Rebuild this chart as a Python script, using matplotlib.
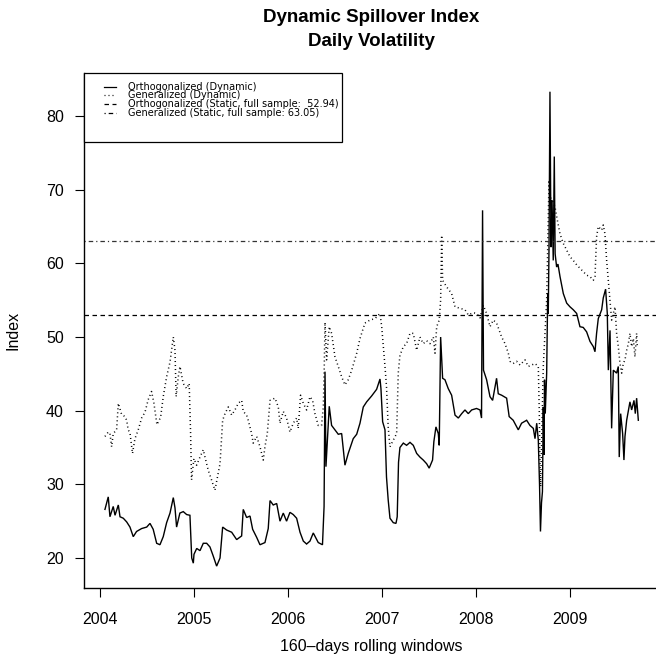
import matplotlib
matplotlib.use("Agg")
import matplotlib.pyplot as plt
from matplotlib.lines import Line2D
from matplotlib.patches import Rectangle

plt.rcParams['font.family'] = ['Liberation Sans', 'DejaVu Sans']
plt.rcParams['lines.scale_dashes'] = False

# Orthogonalized (dynamic) spillover index: decimal year, index value
orth_t = [2004.053, 2004.088, 2004.106, 2004.141, 2004.160, 2004.195, 2004.213, 2004.248,
          2004.284, 2004.319, 2004.354, 2004.389, 2004.443, 2004.497, 2004.532, 2004.566,
          2004.603, 2004.638, 2004.673, 2004.709, 2004.745, 2004.780, 2004.798, 2004.815,
          2004.850, 2004.886, 2004.922, 2004.957, 2004.976, 2004.993, 2005.000, 2005.029,
          2005.064, 2005.099, 2005.135, 2005.170, 2005.204, 2005.241, 2005.277, 2005.305,
          2005.347, 2005.401, 2005.454, 2005.507, 2005.524, 2005.560, 2005.596, 2005.624,
          2005.667, 2005.702, 2005.755, 2005.790, 2005.809, 2005.843, 2005.880, 2005.915,
          2005.950, 2005.985, 2006.021, 2006.056, 2006.092, 2006.128, 2006.163, 2006.198,
          2006.234, 2006.269, 2006.322, 2006.367, 2006.384, 2006.394, 2006.404, 2006.439,
          2006.464, 2006.500, 2006.535, 2006.571, 2006.606, 2006.641, 2006.694, 2006.731,
          2006.766, 2006.801, 2006.837, 2006.890, 2006.943, 2006.979, 2006.989, 2007.007,
          2007.032, 2007.048, 2007.066, 2007.085, 2007.120, 2007.149, 2007.162, 2007.176,
          2007.191, 2007.227, 2007.262, 2007.298, 2007.333, 2007.369, 2007.404, 2007.439,
          2007.475, 2007.502, 2007.538, 2007.552, 2007.574, 2007.599, 2007.609, 2007.624,
          2007.645, 2007.670, 2007.705, 2007.741, 2007.777, 2007.812, 2007.848, 2007.883,
          2007.918, 2007.954, 2008.006, 2008.043, 2008.059, 2008.070, 2008.080, 2008.113,
          2008.149, 2008.177, 2008.202, 2008.219, 2008.237, 2008.273, 2008.326, 2008.353,
          2008.396, 2008.450, 2008.485, 2008.539, 2008.574, 2008.610, 2008.628, 2008.646,
          2008.663, 2008.676, 2008.686, 2008.697, 2008.707, 2008.716, 2008.723, 2008.729,
          2008.737, 2008.752, 2008.763, 2008.769, 2008.777, 2008.787, 2008.798, 2008.809,
          2008.822, 2008.833, 2008.842, 2008.858, 2008.872, 2008.894, 2008.929, 2008.965,
          2009.000, 2009.035, 2009.071, 2009.106, 2009.141, 2009.177, 2009.213, 2009.248,
          2009.266, 2009.283, 2009.301, 2009.337, 2009.354, 2009.379, 2009.397, 2009.408,
          2009.426, 2009.443, 2009.461, 2009.496, 2009.514, 2009.524, 2009.539, 2009.560,
          2009.574, 2009.585, 2009.603, 2009.638, 2009.656, 2009.681, 2009.695, 2009.709,
          2009.727]
orth_v = [26.6, 28.3, 25.6, 27.0, 25.8, 27.2, 25.6, 25.4,
          24.9, 24.2, 22.9, 23.6, 24.0, 24.2, 24.7, 23.9,
          22.0, 21.8, 22.9, 24.8, 26.1, 28.2, 26.8, 24.2,
          26.1, 26.3, 25.9, 25.8, 20.0, 19.3, 20.5, 21.3,
          21.0, 22.0, 22.0, 21.5, 20.3, 18.9, 20.0, 24.2,
          23.8, 23.5, 22.5, 23.0, 26.6, 25.5, 25.7, 23.9,
          22.8, 21.8, 22.1, 24.0, 27.8, 27.2, 27.4, 25.0,
          26.1, 25.0, 26.2, 25.9, 25.4, 23.5, 22.3, 21.9,
          22.3, 23.4, 22.1, 21.8, 27.0, 45.3, 32.4, 40.6,
          38.0, 37.4, 36.8, 36.9, 32.6, 34.2, 36.2, 36.8,
          38.3, 40.5, 41.2, 42.0, 42.9, 44.3, 43.0, 38.5,
          37.4, 31.0, 27.9, 25.4, 24.8, 24.7, 25.6, 33.0,
          35.0, 35.6, 35.3, 35.7, 35.3, 34.2, 33.7, 33.3,
          32.8, 32.2, 33.3, 35.8, 37.8, 36.9, 35.3, 50.0,
          44.4, 44.2, 43.0, 42.1, 39.4, 39.0, 39.6, 40.1,
          39.6, 40.1, 40.3, 40.1, 39.0, 67.2, 45.5, 44.2,
          41.9, 41.4, 43.2, 44.4, 42.3, 42.1, 41.7, 39.2,
          38.7, 37.4, 38.3, 38.7, 38.0, 37.6, 36.2, 38.3,
          36.0, 30.0, 23.6, 27.5, 29.0, 40.5, 34.0, 44.2,
          39.6, 45.1, 55.9, 53.2, 62.2, 83.3, 62.2, 68.6,
          60.4, 74.5, 61.3, 59.5, 59.9, 58.2, 55.9, 54.6,
          54.1, 53.7, 53.2, 51.4, 51.3, 50.7, 49.4, 48.7,
          48.0, 50.5, 52.5, 53.7, 55.3, 56.5, 53.2, 45.5,
          50.9, 37.6, 45.5, 45.1, 46.0, 33.7, 39.6, 36.9,
          33.3, 36.5, 38.7, 41.2, 40.1, 41.4, 39.6, 41.7,
          38.7]

# Generalized (dynamic) spillover index: decimal year, index value
gen_t = [2004.053, 2004.088, 2004.106, 2004.124, 2004.141, 2004.177, 2004.195, 2004.230,
         2004.265, 2004.284, 2004.300, 2004.319, 2004.346, 2004.372, 2004.407, 2004.443,
         2004.479, 2004.513, 2004.549, 2004.574, 2004.606, 2004.645, 2004.673, 2004.709,
         2004.745, 2004.780, 2004.798, 2004.810, 2004.833, 2004.851, 2004.885, 2004.922,
         2004.949, 2004.964, 2004.974, 2004.999, 2005.028, 2005.064, 2005.099, 2005.117,
         2005.152, 2005.187, 2005.223, 2005.258, 2005.277, 2005.305, 2005.330, 2005.365,
         2005.401, 2005.436, 2005.471, 2005.507, 2005.524, 2005.560, 2005.577, 2005.613,
         2005.630, 2005.667, 2005.702, 2005.737, 2005.755, 2005.780, 2005.809, 2005.862,
         2005.897, 2005.915, 2005.950, 2005.985, 2006.021, 2006.056, 2006.092, 2006.109,
         2006.134, 2006.163, 2006.198, 2006.234, 2006.262, 2006.287, 2006.322, 2006.357,
         2006.376, 2006.386, 2006.394, 2006.411, 2006.439, 2006.464, 2006.500, 2006.535,
         2006.571, 2006.606, 2006.641, 2006.678, 2006.731, 2006.766, 2006.819, 2006.872,
         2006.926, 2006.979, 2006.997, 2007.032, 2007.048, 2007.066, 2007.085, 2007.120,
         2007.156, 2007.173, 2007.191, 2007.227, 2007.262, 2007.298, 2007.333, 2007.369,
         2007.404, 2007.439, 2007.475, 2007.511, 2007.546, 2007.564, 2007.582, 2007.609,
         2007.624, 2007.635, 2007.645, 2007.688, 2007.741, 2007.777, 2007.830, 2007.883,
         2007.918, 2007.971, 2008.006, 2008.043, 2008.078, 2008.113, 2008.149, 2008.184,
         2008.219, 2008.273, 2008.309, 2008.344, 2008.362, 2008.396, 2008.432, 2008.468,
         2008.521, 2008.556, 2008.592, 2008.628, 2008.663, 2008.673, 2008.681, 2008.688,
         2008.699, 2008.716, 2008.734, 2008.752, 2008.777, 2008.787, 2008.811, 2008.840,
         2008.865, 2008.894, 2008.929, 2008.965, 2009.000, 2009.035, 2009.071, 2009.124,
         2009.177, 2009.213, 2009.248, 2009.266, 2009.283, 2009.301, 2009.337, 2009.354,
         2009.372, 2009.390, 2009.408, 2009.426, 2009.443, 2009.479, 2009.496, 2009.514,
         2009.532, 2009.550, 2009.567, 2009.585, 2009.603, 2009.621, 2009.638, 2009.656,
         2009.674, 2009.691, 2009.709, 2009.716]
gen_v = [36.5, 37.1, 36.9, 35.1, 36.9, 37.4, 41.0, 39.5,
         39.2, 38.7, 37.4, 37.0, 34.2, 36.2, 37.4, 39.0,
         39.8, 41.5, 42.6, 41.0, 38.1, 39.1, 41.9, 44.6,
         46.6, 50.0, 48.2, 41.9, 44.6, 46.0, 43.7, 43.0,
         43.7, 36.9, 30.6, 33.5, 32.6, 33.7, 34.7, 33.7,
         31.9, 30.6, 29.2, 31.5, 32.8, 38.7, 39.6, 40.5,
         39.4, 40.1, 41.0, 41.4, 39.9, 39.4, 38.7, 36.9,
         35.6, 36.5, 35.1, 33.3, 35.1, 36.9, 41.4, 41.7,
         40.5, 38.3, 39.9, 39.0, 37.1, 38.3, 39.0, 37.6,
         42.1, 41.0, 40.1, 41.9, 41.4, 39.6, 38.0, 38.0,
         40.5, 46.0, 52.0, 46.9, 51.4, 50.5, 47.3, 46.0,
         44.6, 43.5, 44.2, 45.5, 47.8, 49.8, 51.9, 52.3,
         52.5, 53.2, 51.4, 46.0, 43.3, 37.8, 35.1, 36.0,
         36.9, 45.1, 47.5, 48.7, 49.1, 50.5, 50.5, 48.2,
         50.0, 49.1, 49.5, 49.1, 50.0, 47.8, 51.4, 52.3,
         55.0, 63.8, 57.7, 56.8, 55.9, 54.1, 53.9, 53.7,
         53.0, 53.3, 53.2, 52.6, 54.3, 53.2, 51.4, 52.3,
         51.9, 50.0, 49.1, 47.8, 46.7, 46.4, 46.7, 46.2,
         46.9, 46.0, 46.2, 46.4, 46.0, 40.1, 32.8, 29.7,
         36.0, 46.0, 50.5, 55.0, 71.3, 69.0, 68.6, 67.7,
         65.9, 64.0, 62.7, 61.8, 60.9, 60.4, 59.8, 59.1,
         58.4, 58.2, 57.7, 58.2, 63.6, 65.0, 64.5, 65.2,
         64.0, 60.4, 57.7, 55.0, 52.3, 54.1, 50.5, 48.7,
         46.4, 45.1, 46.4, 46.9, 48.2, 49.1, 50.5, 48.7,
         49.8, 47.3, 50.5, 48.7]

# Full-sample (static) spillover indices
static_orth = 52.94
static_gen = 63.05

year_ticks = [2004, 2005, 2006, 2007, 2008, 2009]
index_ticks = [20, 30, 40, 50, 60, 70, 80]

legend_labels = ["Orthogonalized (Dynamic)",
                 "Generalized (Dynamic)",
                 "Orthogonalized (Static, full sample:  %.2f)" % static_orth,
                 "Generalized (Static, full sample: %.2f)" % static_gen]

W, H = 656, 668
fig = plt.figure(figsize=(W / 100, H / 100), dpi=100)
fig.patch.set_facecolor("white")


def fx(px):
    return px / W


def fy(py):
    return 1 - py / H


ax = fig.add_axes([fx(84), fy(588), fx(659) - fx(84), fy(72.7) - fy(588)])
ax.set_xlim(2003.830, 2009.947)
ax.set_ylim(15.93, 85.88)

px_pt = 72 / 100.0
dot_style = (0, (1.0 * px_pt, 3.0 * px_pt))
dash_style = (0, (4.5 * px_pt, 3.5 * px_pt))
dotdash_style = (0, (1.2 * px_pt, 3.0 * px_pt, 4.5 * px_pt, 3.0 * px_pt))

ax.plot(orth_t, orth_v, color="black", lw=1.0, solid_joinstyle="miter")
ax.plot(gen_t, gen_v, color="black", lw=1.1, linestyle=dot_style)
ax.axhline(static_orth, color="black", lw=0.9, linestyle=dash_style)
ax.axhline(static_gen, color="#333333", lw=0.9, linestyle=dotdash_style)

for side in ("top", "right"):
    ax.spines[side].set_visible(False)
for side in ("left", "bottom"):
    ax.spines[side].set_linewidth(1.0)

ax.set_xticks(year_ticks)
ax.set_xticklabels([str(y) for y in year_ticks])
ax.set_yticks(index_ticks)
ax.set_yticklabels([str(v) for v in index_ticks])
ax.tick_params(axis="both", direction="out", length=6.5, width=0.8,
               labelsize=11.5, colors="black")
ax.tick_params(axis="x", pad=11)
ax.tick_params(axis="y", pad=8)

# Titles and axis labels
fig.text(fx(371), fy(18), "Dynamic Spillover Index", ha="center", va="center",
         fontsize=13.5, fontweight="bold")
fig.text(fx(371), fy(41), "Daily Volatility", ha="center", va="center",
         fontsize=13.5, fontweight="bold")
fig.text(fx(371), fy(646), "160\u2013days rolling windows", ha="center", va="center",
         fontsize=11.5)
fig.text(fx(13), fy(330), "Index", ha="center", va="center", rotation=90,
         fontsize=11.5)

# Legend box drawn in figure coordinates
fig.patches.append(Rectangle((fx(84), fy(141.7)), fx(341.5) - fx(84), fy(72.7) - fy(141.7),
                             transform=fig.transFigure, facecolor="white",
                             edgecolor="black", lw=0.9, zorder=5))
legend_styles = ["-", dot_style, dash_style, dotdash_style]
row_y = [86.5, 95.2, 103.8, 112.5]
for lab, ls, ry in zip(legend_labels, legend_styles, row_y):
    fig.lines.append(Line2D([fx(104), fx(116)], [fy(ry), fy(ry)], transform=fig.transFigure,
                            color="black", lw=0.9, linestyle=ls, zorder=6))
    fig.text(fx(127.5), fy(ry), lab, ha="left", va="center", fontsize=7.0,
             family=["DejaVu Sans"], zorder=6)

fig.savefig("out.png", dpi=100, facecolor="white")
